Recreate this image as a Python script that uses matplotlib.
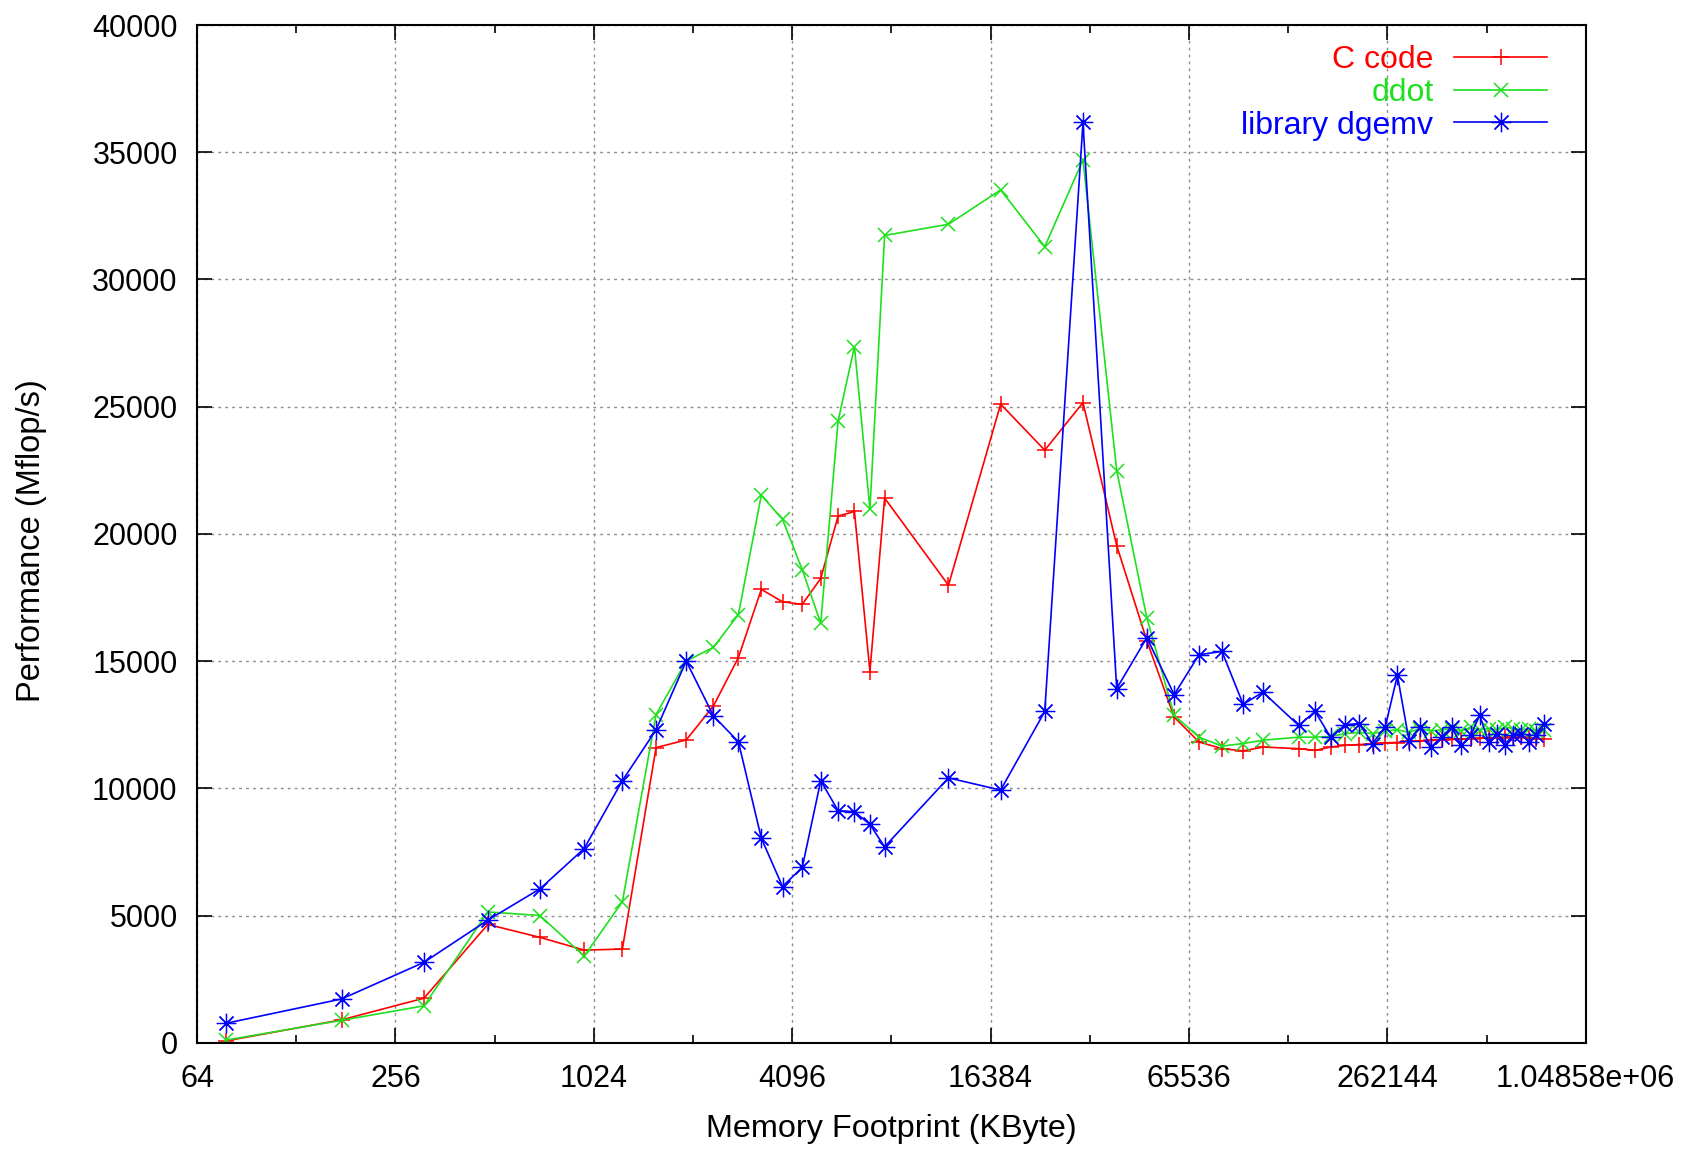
import numpy as np
import matplotlib
matplotlib.use("Agg")
import matplotlib.pyplot as plt
from matplotlib.ticker import FixedLocator, FixedFormatter, NullFormatter

plt.rcParams['font.family'] = ['Liberation Sans', 'DejaVu Sans']

# memory footprint of the N x N double matrix, in KByte
footprint_kb = [
    78.125, 175.78, 312.5, 488.28, 703.125, 957.03, 1250, 1582.03, 1953.125,
    2363.28, 2812.5, 3300.78, 3828.125, 4394.53, 5000, 5644.53, 6328.125,
    7050.78, 7812.5, 12207, 17578, 23926, 31250, 39551, 48828, 59082, 70312,
    82520, 95703, 109863, 141113, 158203, 176270, 195312, 215332, 236328,
    258301, 281250, 305176, 330078, 355957, 382812, 410645, 439453, 469238,
    500000, 531738, 564453, 598145, 632812, 668457, 705078, 742676, 781250,
]

c_code = [
    70, 900, 1750, 4650, 4140, 3640, 3680, 11600, 11900,
    13240, 15140, 17820, 17330, 17230, 18250, 20700, 20880,
    14590, 21410, 17980, 25100, 23290, 25160, 19540, 15800, 12800, 11820,
    11560, 11470, 11620, 11560, 11490, 11620, 11690, 11720, 11750,
    11790, 11800, 11840, 11860, 11880, 11900, 11920, 11930, 11950,
    11960, 11980, 11970, 12000, 11990, 12010, 11980, 11950, 11930,
]

ddot = [
    100, 880, 1450, 5140, 5000, 3400, 5540, 12900, 15000,
    15540, 16830, 21520, 20570, 18590, 16490, 24430, 27360,
    20970, 31730, 32170, 33520, 31290, 34700, 22490, 16700, 12870, 12010,
    11660, 11760, 11890, 12010, 12010, 12040, 12150, 12200, 12150,
    12250, 12300, 12200, 12350, 12250, 12300, 12350, 12250, 12400,
    12300, 12350, 12300, 12400, 12350, 12300, 12350, 12250, 12300,
]

dgemv = [
    760, 1720, 3160, 4820, 6050, 7630, 10300, 12300, 15000,
    12840, 11830, 8040, 6140, 6890, 10300, 9120, 9080,
    8580, 7700, 10410, 9930, 13020, 36170, 13920, 15920, 13680, 15250,
    15380, 13300, 13780, 12470, 13020, 12010, 12500, 12540, 11760,
    12410, 14440, 11860, 12410, 11620, 12010, 12410, 11690, 12080,
    12870, 11820, 12150, 11690, 12080, 12150, 11820, 12080, 12540,
]

xtick_vals = [64, 256, 1024, 4096, 16384, 65536, 262144, 1048576]
xtick_labels = ["64", "256", "1024", "4096", "16384", "65536", "262144", "1.04858e+06"]
xminor_vals = [128, 512, 2048, 8192, 32768, 131072, 524288]
ytick_vals = [0, 5000, 10000, 15000, 20000, 25000, 30000, 35000, 40000]

fig = plt.figure(figsize=(16.9, 11.49), dpi=100)
ax = fig.add_axes([0.1166, 0.0925, 0.8217, 0.8857])

ax.plot(footprint_kb, c_code, color="#ff0000", lw=1.2, marker="+", ms=11, mew=1.1,
        label="C code")
ax.plot(footprint_kb, ddot, color="#1ee01e", lw=1.2, marker="x", ms=10, mew=1.1,
        label="ddot")
ax.plot(footprint_kb, dgemv, color="#0000ff", lw=1.2, marker=(8, 2, 0), ms=14, mew=0.9,
        label="library dgemv")

ax.set_xscale("log", base=2)
ax.set_xlim(64, 1048576)
ax.set_ylim(0, 40000)

ax.xaxis.set_major_locator(FixedLocator(xtick_vals))
ax.xaxis.set_major_formatter(FixedFormatter(xtick_labels))
ax.xaxis.set_minor_locator(FixedLocator(xminor_vals))
ax.xaxis.set_minor_formatter(NullFormatter())
ax.yaxis.set_major_locator(FixedLocator(ytick_vals))

ax.tick_params(axis="both", which="major", direction="in", length=11, width=1.2,
               top=True, right=True, labelsize=22)
ax.tick_params(axis="x", which="major", pad=15)
ax.tick_params(axis="y", which="major", pad=14)
ax.tick_params(axis="x", which="minor", direction="in", length=6, width=1.2,
               top=True, bottom=True)

for s in ax.spines.values():
    s.set_linewidth(1.5)

ax.grid(True, which="major", color="#8c8c8c", linestyle=(0, (2, 3)), lw=1.0)

ax.set_xlabel("Memory Footprint (KByte)", fontsize=23.3)
ax.set_ylabel("Performance (Mflop/s)", fontsize=23.5)
ax.xaxis.set_label_coords(0.5, -0.070)
ax.yaxis.set_label_coords(-0.108, 0.493)

leg = ax.legend(loc="upper right", bbox_to_anchor=(0.972, 0.980), frameon=False,
                markerfirst=False, fontsize=23, handlelength=2.9, handletextpad=0.65,
                labelspacing=0.08, borderpad=0, borderaxespad=0)
for txt, line in zip(leg.get_texts(), leg.get_lines()):
    txt.set_color(line.get_color())

fig.savefig("out.png", dpi=100)
plt.close(fig)
